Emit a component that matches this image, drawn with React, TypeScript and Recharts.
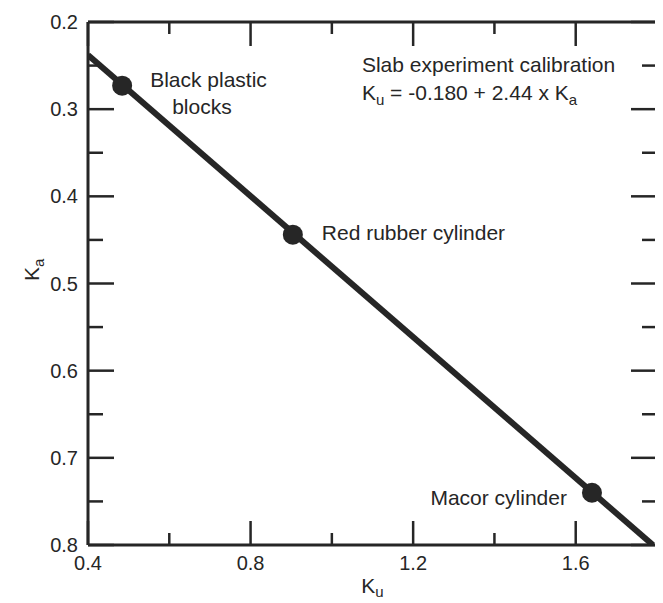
import React from 'react';
import { ScatterChart, Scatter, XAxis, YAxis, ReferenceDot } from 'recharts';

const X_TICKS = [0.4, 0.6, 0.8, 1.0, 1.2, 1.4, 1.6, 1.8];
const X_LABELS = ['0.4', '0.8', '1.2', '1.6'];
const Y_TICKS = [0.2, 0.25, 0.3, 0.35, 0.4, 0.45, 0.5, 0.55, 0.6, 0.65, 0.7, 0.75, 0.8];
const Y_LABELS = ['0.2', '0.3', '0.4', '0.5', '0.6', '0.7', '0.8'];

const POINT_NAMES = ['Black plastic blocks', 'Red rubber cylinder', 'Macor cylinder'];
const POINT_KU = [0.484, 0.904, 1.64];
const POINT_KA = [0.273, 0.444, 0.74];

const LINE_KU = [0.4, 1.79];
const LINE_KA = [0.238, 0.8];

const TITLE_KU = 1.074;
const TITLE_KA = 0.2574;

const points = POINT_NAMES.map((name, i) => ({ name, ku: POINT_KU[i], ka: POINT_KA[i] }));
const linePts = LINE_KU.map((ku, i) => ({ ku, ka: LINE_KA[i] }));

const FONT = '"Liberation Sans", Arial, Helvetica, sans-serif';
const INK = '#262626';

const LABEL_LAYOUT: Record<string, { lines: string[]; dx: number[]; dy: number[]; anchor: 'start' | 'end' }> = {
  'Black plastic blocks': { lines: ['Black plastic', 'blocks'], dx: [28, 50], dy: [1, 28], anchor: 'start' },
  'Red rubber cylinder': { lines: ['Red rubber cylinder'], dx: [29], dy: [5], anchor: 'start' },
  'Macor cylinder': { lines: ['Macor cylinder'], dx: [-25], dy: [12], anchor: 'end' },
};

const isMajor = (v: number) => Math.abs(v * 10 - Math.round(v * 10)) < 1e-6;

const XTick = (props: any) => {
  const { x, y, payload, side } = props;
  const v = payload.value as number;
  const lbl = v.toFixed(1);
  const major = X_LABELS.includes(lbl);
  const len = major ? 24 : 12;
  if (side === 'top') {
    return (
      <g>
        <line x1={x} x2={x} y1={y} y2={y + len} stroke={INK} strokeWidth={2.5} />
      </g>
    );
  }
  return (
    <g>
      <line x1={x} x2={x} y1={y} y2={y - len} stroke={INK} strokeWidth={2.5} />
      {major && (
        <text x={x} y={y + 25} textAnchor="middle" fontFamily={FONT} fontSize={20} fill={INK}>
          {lbl}
        </text>
      )}
    </g>
  );
};

const YTick = (props: any) => {
  const { x, y, payload, side } = props;
  const v = payload.value as number;
  const major = isMajor(v);
  const lbl = v.toFixed(1);
  const len = major ? 26 : 15;
  if (side === 'right') {
    return (
      <g>
        <line x1={x} x2={x - len} y1={y} y2={y} stroke={INK} strokeWidth={2.5} />
      </g>
    );
  }
  return (
    <g>
      <line x1={x} x2={x + len} y1={y} y2={y} stroke={INK} strokeWidth={2.5} />
      {major && Y_LABELS.includes(lbl) && (
        <text x={x - 10} y={y + 7} textAnchor="end" fontFamily={FONT} fontSize={20} fill={INK}>
          {lbl}
        </text>
      )}
    </g>
  );
};

const PointShape = (props: any) => {
  const { cx, cy, payload } = props;
  const layout = LABEL_LAYOUT[payload.name];
  return (
    <g>
      <circle cx={cx} cy={cy} r={10} fill={INK} />
      {layout &&
        layout.lines.map((t, i) => (
          <text
            key={i}
            x={cx + layout.dx[i]}
            y={cy + layout.dy[i]}
            textAnchor={layout.anchor}
            fontFamily={FONT}
            fontSize={21}
            fill={INK}
          >
            {t}
          </text>
        ))}
    </g>
  );
};

const TitleShape = (props: any) => {
  const { cx, cy } = props;
  return (
    <g>
      <text x={cx} y={cy} fontFamily={FONT} fontSize={21} fill={INK}>
        Slab experiment calibration
      </text>
      <text x={cx} y={cy + 28} fontFamily={FONT} fontSize={21} fill={INK}>
        <tspan>K</tspan>
        <tspan fontSize={15} dy={5}>u</tspan>
        <tspan dy={-5}>{' = -0.180 + 2.44 x K'}</tspan>
        <tspan fontSize={15} dy={5}>a</tspan>
      </text>
    </g>
  );
};

const XLabel = (props: any) => {
  const vb = props.viewBox || {};
  const cx = vb.x + vb.width / 2;
  return (
    <text x={cx} y={vb.y + 48} textAnchor="middle" fontFamily={FONT} fontSize={21} fill={INK}>
      <tspan>K</tspan>
      <tspan fontSize={15} dy={4}>u</tspan>
    </text>
  );
};

const YLabel = (props: any) => {
  const x = 31;
  const y = 273;
  return (
    <text x={x} y={y} transform={`rotate(-90 ${x} ${y})`} textAnchor="start" fontFamily={FONT} fontSize={21} fill={INK}>
      <tspan>K</tspan>
      <tspan fontSize={15} dy={5}>a</tspan>
    </text>
  );
};

export default function App() {
  return (
    <div style={{ width: 655, height: 595, background: '#fff' }}>
      <ScatterChart width={655} height={595} margin={{ top: 0, right: 0, bottom: 0, left: 0 }}>
        <XAxis
          xAxisId="b"
          dataKey="ku"
          type="number"
          domain={[0.4, 1.8]}
          ticks={X_TICKS}
          interval={0}
          orientation="bottom"
          height={58}
          tickSize={0}
          tickMargin={0}
          tickLine={false}
          axisLine={{ stroke: INK, strokeWidth: 3 }}
          tick={<XTick side="bottom" />}
          allowDataOverflow
          label={<XLabel />}
        />
        <XAxis
          xAxisId="t"
          dataKey="ku"
          type="number"
          domain={[0.4, 1.8]}
          ticks={X_TICKS}
          interval={0}
          orientation="top"
          height={14}
          tickSize={0}
          tickMargin={0}
          tickLine={false}
          axisLine={{ stroke: INK, strokeWidth: 3 }}
          tick={<XTick side="top" />}
          allowDataOverflow
        />
        <YAxis
          yAxisId="l"
          dataKey="ka"
          type="number"
          domain={[0.2, 0.8]}
          ticks={Y_TICKS}
          interval={0}
          reversed
          orientation="left"
          width={80}
          tickSize={0}
          tickMargin={0}
          tickLine={false}
          axisLine={{ stroke: INK, strokeWidth: 3 }}
          tick={<YTick side="left" />}
          allowDataOverflow
          label={<YLabel />}
        />
        <YAxis
          yAxisId="r"
          dataKey="ka"
          type="number"
          domain={[0.2, 0.8]}
          ticks={Y_TICKS}
          interval={0}
          reversed
          orientation="right"
          width={6}
          tickSize={0}
          tickMargin={0}
          tickLine={false}
          axisLine={{ stroke: INK, strokeWidth: 3 }}
          tick={<YTick side="right" />}
          allowDataOverflow
        />
        <Scatter
          xAxisId="b"
          yAxisId="l"
          data={linePts}
          line={{ stroke: INK, strokeWidth: 6 }}
          shape={() => <g />}
          isAnimationActive={false}
        />
        <Scatter
          xAxisId="b"
          yAxisId="l"
          data={points}
          shape={<PointShape />}
          isAnimationActive={false}
        />
        <ReferenceDot
          xAxisId="b"
          yAxisId="l"
          x={TITLE_KU}
          y={TITLE_KA}
          r={0}
          shape={<TitleShape />}
        />
      </ScatterChart>
    </div>
  );
}
